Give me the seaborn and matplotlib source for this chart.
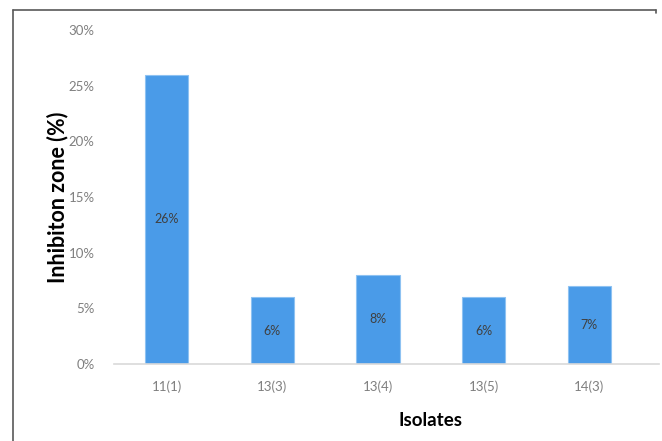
import pandas as pd
import seaborn as sns
import matplotlib.pyplot as plt
from matplotlib.lines import Line2D

# Data
isolates = ['11(1)', '13(3)', '13(4)', '13(5)', '14(3)']
inhibition = [0.26, 0.06, 0.08, 0.06, 0.07]
value_labels = ['26%', '6%', '8%', '6%', '7%']
y_ticks = [0, 0.05, 0.10, 0.15, 0.20, 0.25, 0.30]
y_tick_labels = ['0%', '5%', '10%', '15%', '20%', '25%', '30%']

df = pd.DataFrame({'Isolate': isolates, 'Inhibition': inhibition})

sns.set_style('white')
plt.rcParams['font.family'] = ['Lato', 'DejaVu Sans']

W, H = 662, 441
fig = plt.figure(figsize=(W / 100, H / 100), dpi=100)
ax = fig.add_axes([114 / W, 77 / H, (659 - 114) / W, (364 - 30) / H])


def fit_width(txt, target_px, along_height=False):
    # scale a text's font size so its drawn length matches target_px
    r = fig.canvas.get_renderer()
    bb = txt.get_window_extent(renderer=r)
    cur = bb.height if along_height else bb.width
    txt.set_fontsize(txt.get_fontsize() * target_px / cur)


sns.barplot(data=df, x='Isolate', y='Inhibition', color='#4A9BE8',
            width=0.41, edgecolor='#8EC2F2', linewidth=0.8, saturation=1, ax=ax)

ax.set_ylim(0, 0.30)
ax.set_xlim(-0.5, 4.66)
ax.set_yticks(y_ticks)
ax.set_yticklabels(y_tick_labels)
ax.tick_params(axis='both', length=0, labelsize=9.5, labelcolor='#7F7F7F')
ax.tick_params(axis='y', pad=14)
ax.tick_params(axis='x', pad=12)

for s in ['top', 'right', 'left']:
    ax.spines[s].set_visible(False)
ax.spines['bottom'].set_color('#D9D9D9')
ax.spines['bottom'].set_linewidth(1.2)
ax.set_xlabel('')
ax.set_ylabel('')

# value labels in the middle of each bar
for i, (v, lab) in enumerate(zip(inhibition, value_labels)):
    ax.text(i, v / 2, lab, ha='center', va='center', fontsize=9, color='#404040')

# axis titles placed in pixel terms
xl = fig.text(430 / W, 1 - 420 / H, 'Isolates', ha='center', va='center',
              fontsize=13, fontweight='bold', color='black')
fit_width(xl, 64)
yl = fig.text(58 / W, 1 - 197 / H, 'Inhibiton zone (%)', ha='center', va='center',
              rotation=90, fontsize=13, fontweight='bold', color='black')
fit_width(yl, 172, along_height=True)

# outer frame, top and left edge only
fig.add_artist(Line2D([13 / W, 13 / W], [0, 1 - 10 / H], color='#595959', lw=1.2))
fig.add_artist(Line2D([13 / W, 656 / W], [1 - 10 / H, 1 - 10 / H], color='#595959', lw=1.2))
fig.add_artist(Line2D([656 / W, 656 / W], [1 - 10 / H, 1 - 13 / H], color='#595959', lw=1.2))

fig.savefig('out.png', dpi=100)
